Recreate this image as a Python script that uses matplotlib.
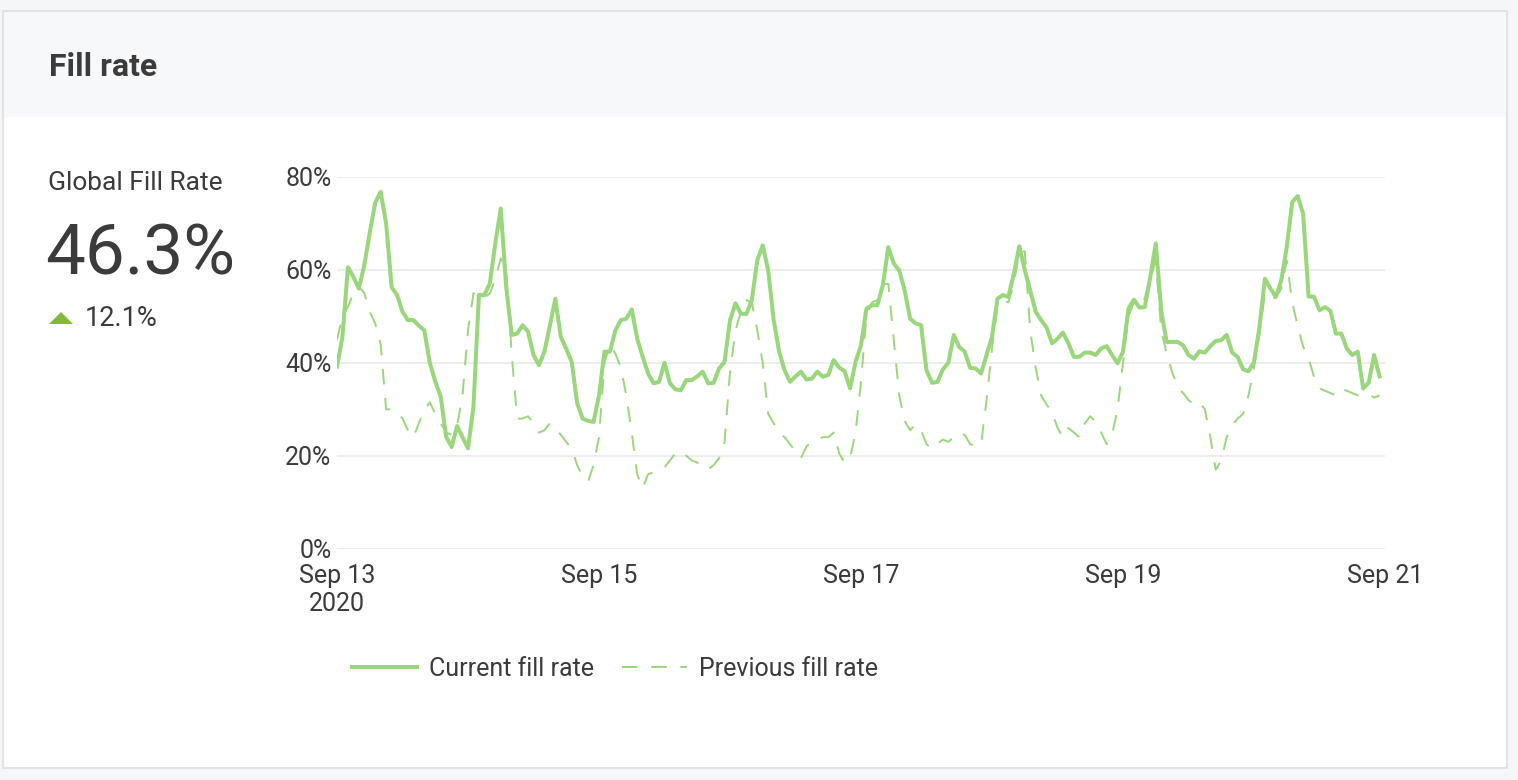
import numpy as np
import pandas as pd
import matplotlib
matplotlib.use("Agg")
import matplotlib.pyplot as plt
from matplotlib.patches import Rectangle, Polygon

plt.rcParams['font.family'] = ['Roboto', 'DejaVu Sans']

# --- data: hourly fill rate (%), Sep 13 00:00 .. Sep 20 23:00 ---
start = pd.Timestamp("2020-09-13 00:00")
hours = np.arange(192)

current_fill = [
    39.2, 45.6, 60.6, 58.5, 56.0, 61.0, 68.0, 74.5, 76.8, 70.0, 56.3, 54.6, 51.0, 49.2, 49.2, 48.0, 47.0, 40.0, 36.0, 32.7, 24.1, 21.9, 26.4, 24.0,
    21.6, 30.5, 54.6, 54.6, 57.1, 65.7, 73.2, 56.3, 46.0, 46.3, 48.1, 46.7, 41.7, 39.5, 42.4, 48.0, 53.8, 45.6, 43.0, 40.2, 31.3, 28.0, 27.5, 27.3,
    33.0, 42.4, 42.4, 47.0, 49.2, 49.5, 51.5, 45.2, 41.3, 37.7, 35.6, 35.9, 40.0, 35.6, 34.3, 34.1, 36.3, 36.3, 37.1, 38.1, 35.6, 35.7, 38.8, 40.2,
    49.2, 52.8, 50.6, 50.5, 53.5, 62.1, 65.3, 59.9, 49.2, 42.4, 38.4, 35.9, 37.1, 38.1, 36.4, 36.6, 38.1, 37.0, 37.4, 40.6, 39.0, 38.2, 34.5, 40.2,
    43.8, 51.7, 52.4, 52.4, 56.7, 64.9, 61.4, 59.9, 55.6, 49.5, 48.5, 48.1, 38.4, 35.7, 35.9, 38.6, 40.0, 46.0, 43.4, 42.4, 38.9, 38.8, 37.7, 41.7,
    45.6, 53.8, 54.6, 54.2, 59.2, 65.1, 60.0, 55.6, 51.0, 49.2, 47.6, 44.2, 45.2, 46.5, 44.2, 41.3, 41.3, 42.2, 42.2, 41.7, 43.1, 43.6, 41.7, 39.9,
    42.4, 51.7, 53.6, 51.9, 52.0, 58.5, 65.7, 51.3, 44.5, 44.5, 44.5, 43.8, 41.7, 40.9, 42.5, 42.2, 43.6, 44.7, 44.9, 46.0, 42.2, 41.3, 38.6, 38.2,
    40.2, 47.7, 58.1, 56.0, 54.2, 57.8, 64.9, 74.6, 75.9, 72.1, 54.3, 54.2, 51.3, 52.0, 51.2, 46.3, 46.3, 43.1, 41.7, 42.4, 34.5, 35.7, 41.7, 37.1,
]

previous_fill = [
    45.0, 50.0, 52.0, 55.0, 56.5, 55.0, 51.0, 48.5, 44.0, 30.0, 30.0, 29.5, 28.0, 25.5, 24.0, 27.0, 30.0, 31.5, 29.0, 27.0, 25.0, 24.5, 26.5, 33.0,
    47.0, 55.0, 54.0, 54.0, 55.0, 58.0, 62.5, 60.0, 42.0, 28.0, 28.0, 28.5, 27.0, 25.0, 25.5, 27.0, 26.0, 24.5, 23.0, 21.5, 18.0, 15.5, 14.5, 18.0,
    24.0, 40.0, 44.0, 42.0, 39.0, 33.0, 25.0, 16.0, 13.0, 16.0, 16.5, 17.0, 17.5, 19.0, 20.5, 21.0, 20.0, 19.0, 18.5, 18.0, 17.0, 18.0, 19.5, 23.0,
    38.0, 47.0, 51.0, 53.5, 53.0, 47.0, 40.0, 29.0, 27.0, 25.0, 24.0, 22.5, 21.0, 19.5, 22.0, 23.0, 23.5, 24.0, 24.0, 25.0, 20.5, 18.5, 19.5, 25.0,
    36.0, 50.0, 53.0, 53.5, 57.0, 57.0, 45.0, 33.0, 27.5, 25.5, 26.8, 25.5, 22.5, 21.5, 22.5, 23.5, 23.0, 24.0, 25.0, 24.5, 22.5, 22.0, 22.5, 32.0,
    43.0, 52.0, 53.5, 53.0, 57.0, 64.0, 64.0, 47.0, 39.0, 33.0, 31.0, 29.5, 26.0, 24.0, 26.0, 25.0, 24.0, 27.0, 28.5, 27.3, 25.0, 22.5, 24.5, 30.0,
    40.0, 50.0, 53.0, 52.0, 54.0, 58.0, 62.0, 47.0, 42.0, 38.0, 35.0, 33.5, 32.0, 31.0, 31.5, 30.0, 24.0, 17.0, 19.0, 24.0, 26.5, 28.0, 29.0, 33.0,
    39.0, 46.0, 55.0, 54.0, 54.0, 56.0, 62.0, 53.0, 48.0, 43.5, 41.0, 37.0, 34.5, 34.0, 33.5, 33.0, 34.5, 34.0, 33.5, 33.0, 33.3, 33.3, 32.5, 33.0,
]

times = start + pd.to_timedelta(hours, unit="h")
tick_days = pd.to_datetime(["2020-09-13", "2020-09-15", "2020-09-17", "2020-09-19", "2020-09-21"])
tick_labels = ["Sep 13\n2020", "Sep 15", "Sep 17", "Sep 19", "Sep 21"]
y_ticks = [0, 20, 40, 60, 80]

GREEN = "#9ad67c"
TEXT = "#3b3b3b"
W, H = 1518, 780

fig = plt.figure(figsize=(W / 100, H / 100), dpi=100)
fig.patch.set_facecolor("#f5f6f8")

def fx(x):
    return x / W

def fy(y):
    return 1 - y / H

# card + header band (behind the axes)
fig.patches.append(Rectangle((fx(3), fy(768)), 1504 / W, 757 / H, transform=fig.transFigure,
                             facecolor="white", edgecolor="#e2e3e6", linewidth=1.5, zorder=-2))
fig.patches.append(Rectangle((fx(4), fy(117)), 1502 / W, 105 / H, transform=fig.transFigure,
                             facecolor="#f7f8fa", edgecolor="none", zorder=-1))

fig.text(fx(49), fy(67), "Fill rate", fontsize=23, fontweight="bold", color=TEXT, va="center", ha="left")
fig.text(fx(48), fy(183), "Global Fill Rate", fontsize=19, color=TEXT, va="center", ha="left")
fig.text(fx(45), fy(255), "46.3%", fontsize=51, color=TEXT, va="center", ha="left")
fig.patches.append(Polygon([(fx(49), fy(324)), (fx(73), fy(324)), (fx(61), fy(312))], closed=True,
                           transform=fig.transFigure, facecolor="#86b83c", edgecolor="none"))
fig.text(fx(85), fy(319), "12.1%", fontsize=19.5, color=TEXT, va="center", ha="left")

ax = fig.add_axes([fx(337), fy(548.7), (1385 - 337) / W, (548.7 - 177) / H])
ax.set_facecolor("none")
ax.plot(times, current_fill, color=GREEN, linewidth=2.9, label="Current fill rate", zorder=3,
        solid_joinstyle="round")
ax.plot(times, previous_fill, color=GREEN, linewidth=1.4, linestyle=(0, (8, 7)),
        label="Previous fill rate", zorder=2)

ax.set_xlim(tick_days[0], tick_days[-1])
ax.set_ylim(0, 80)
ax.set_xticks(tick_days)
ax.set_xticklabels(tick_labels)
ax.set_yticks(y_ticks)
ax.set_yticklabels([f"{v}%" for v in y_ticks])
ax.tick_params(axis="both", length=0, labelsize=18, labelcolor=TEXT)
ax.tick_params(axis="x", pad=11)
ax.tick_params(axis="y", pad=4)
ax.grid(axis="y", color="#e8e8e8", linewidth=1.1)
ax.grid(axis="x", visible=False)
for s in ax.spines.values():
    s.set_visible(False)

leg = ax.legend(loc="center", bbox_to_anchor=(fx(615), fy(669)), bbox_transform=fig.transFigure,
                ncol=2, frameon=False, fontsize=18, handlelength=2.6, columnspacing=1.1,
                handletextpad=0.5, labelcolor=TEXT)

fig.savefig("out.png", dpi=100, facecolor=fig.get_facecolor())
